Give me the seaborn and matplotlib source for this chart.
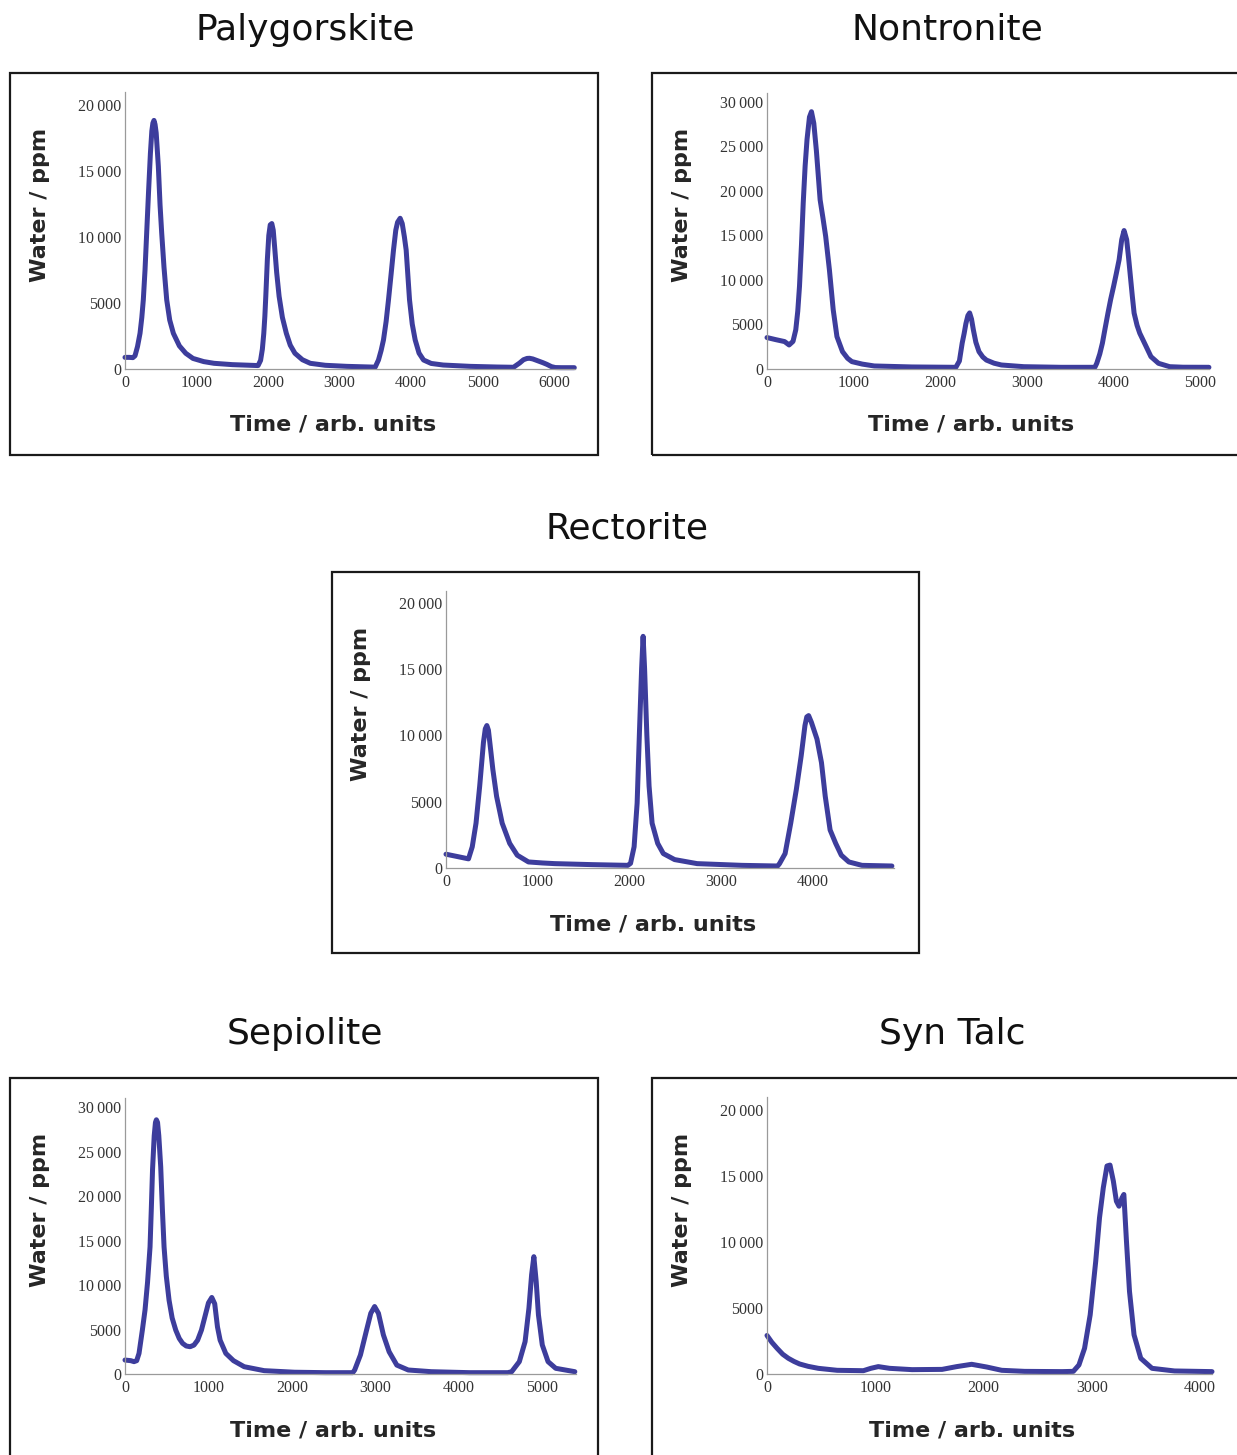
import matplotlib
matplotlib.use("Agg")
import matplotlib.pyplot as plt
from matplotlib.patches import Rectangle
from matplotlib.ticker import MultipleLocator, FuncFormatter
import pandas as pd
import seaborn as sns

# ---- evolved-water traces (time in arb. units, water in ppm) ----
paly_time = [0, 60, 110, 140, 175, 210, 235, 256, 280, 303, 330, 355, 375, 390, 405,
             420, 436, 466, 490, 513, 545, 583, 625, 676, 760, 849, 950, 1100, 1245,
             1500, 1860, 1895, 1920, 1940, 1955, 1968, 1990, 2010, 2030, 2052, 2072,
             2095, 2120, 2154, 2200, 2255, 2310, 2375, 2480, 2590, 2800, 3100, 3497,
             3543, 3580, 3613, 3650, 3683, 3720, 3753, 3785, 3810, 3846, 3875, 3905,
             3930, 3977, 4015, 4056, 4110, 4173, 4280, 4448, 4825, 5200, 5431, 5475,
             5515, 5570, 5620, 5655, 5700, 5770, 5840, 5897, 5960, 6014, 6100, 6280]
paly_ppm = [880, 880, 860, 1000, 1700, 2700, 3900, 5230, 7500, 10280, 13500, 16300,
            18000, 18600, 18800, 18500, 17850, 15330, 12400, 10280, 7700, 5230, 3700,
            2700, 1750, 1190, 800, 560, 430, 330, 260, 650, 1500, 2700, 4000, 5500,
            8300, 10100, 10900, 11000, 10500, 9000, 7300, 5500, 3900, 2700, 1800, 1190,
            700, 430, 280, 200, 140, 680, 1400, 2200, 3600, 5230, 7200, 9000, 10500,
            11100, 11400, 11000, 10000, 9000, 5230, 3400, 2200, 1200, 680, 420, 300,
            200, 150, 130, 300, 450, 700, 800, 810, 760, 620, 480, 350, 180, 110, 100,
            100]

nont_time = [0, 100, 203, 255, 300, 332, 355, 375, 398, 418, 440, 462, 490, 513, 540,
             570, 613, 645, 677, 720, 764, 807, 871, 930, 979, 1100, 1238, 1670, 2179,
             2220, 2252, 2275, 2295, 2318, 2338, 2360, 2381, 2410, 2446, 2490, 2532,
             2620, 2705, 2964, 3395, 3783, 3805, 3840, 3870, 3900, 3934, 3965, 3999,
             4030, 4063, 4093, 4120, 4150, 4172, 4193, 4215, 4236, 4270, 4301, 4366,
             4430, 4517, 4646, 4800, 5099]
nont_ppm = [3530, 3300, 3080, 2700, 3100, 4400, 6500, 9300, 14000, 18660, 22800, 25800,
            28300, 28900, 27600, 24500, 19000, 17000, 14900, 11150, 6650, 3640, 1950,
            1200, 830, 550, 340, 230, 190, 900, 2900, 4000, 5100, 6000, 6300, 5600, 4400,
            3000, 1950, 1350, 1000, 650, 450, 260, 190, 190, 640, 1700, 2900, 4500, 6270,
            7800, 9275, 10700, 12280, 14530, 15550, 14530, 12500, 10400, 8200, 6270,
            4900, 4020, 2700, 1390, 640, 260, 200, 190]

rect_time = [0, 120, 245, 286, 327, 367, 408, 428, 445, 462, 490, 510, 551, 612, 694,
             776, 898, 1050, 1184, 1592, 1980, 2010, 2049, 2082, 2106, 2131, 2147, 2163,
             2188, 2212, 2245, 2306, 2367, 2490, 2735, 3224, 3612, 3633, 3694, 3755,
             3816, 3869, 3910, 3930, 3950, 3980, 4041, 4090, 4131, 4184, 4245, 4306,
             4388, 4531, 4857]
rect_ppm = [1040, 870, 690, 1600, 3380, 6180, 9480, 10500, 10750, 10400, 8700, 7450,
            5410, 3380, 1855, 966, 457, 380, 330, 254, 200, 350, 1600, 4900, 10000,
            15070, 17480, 15070, 10000, 6180, 3380, 1855, 1090, 635, 330, 200, 150, 330,
            1090, 3380, 5920, 8460, 10750, 11400, 11500, 11000, 9730, 7950, 5410, 2870,
            1855, 966, 457, 200, 150]

sepi_time = [0, 69, 108, 140, 168, 208, 240, 270, 300, 315, 330, 350, 365, 376, 390,
             405, 428, 448, 468, 495, 528, 565, 608, 650, 690, 734, 780, 826, 870, 916,
             963, 1000, 1040, 1075, 1108, 1140, 1208, 1300, 1428, 1668, 2028, 2400,
             2729, 2752, 2821, 2890, 2945, 2991, 3037, 3096, 3165, 3257, 3394, 3670,
             4128, 4587, 4633, 4725, 4794, 4840, 4872, 4899, 4927, 4954, 5000, 5069,
             5161, 5390]
sepi_ppm = [1570, 1500, 1390, 1500, 2320, 4940, 7200, 10300, 14300, 18500, 23000, 26800,
            28300, 28600, 28300, 26800, 23300, 18500, 14300, 11000, 8300, 6300, 4940,
            4000, 3450, 3150, 3070, 3250, 3800, 4940, 6650, 8000, 8610, 7900, 5300, 3800,
            2320, 1500, 820, 375, 200, 150, 150, 450, 2140, 4770, 6830, 7590, 6830, 4400,
            2500, 1000, 450, 260, 150, 150, 260, 1390, 3640, 7400, 11150, 13200, 10400,
            6650, 3270, 1390, 640, 260]

talc_time = [0, 45, 93, 145, 197, 250, 301, 380, 474, 648, 890, 959, 1028, 1132, 1340,
             1617, 1752, 1890, 2029, 2168, 2379, 2725, 2829, 2881, 2933, 2985, 3036,
             3071, 3106, 3140, 3168, 3199, 3227, 3251, 3279, 3296, 3320, 3348, 3390,
             3452, 3556, 3764, 4110]
talc_ppm = [2920, 2400, 1950, 1500, 1190, 950, 760, 580, 430, 280, 250, 430, 560, 430,
            330, 350, 560, 735, 530, 280, 200, 180, 200, 685, 1950, 4490, 8540, 11840,
            14120, 15770, 15840, 14620, 13100, 12720, 13360, 13610, 10060, 6260, 2970,
            1190, 430, 230, 180]

minerals = ["Palygorskite", "Nontronite", "Rectorite", "Sepiolite", "Syn Talc"]
series = {
    "Palygorskite": (paly_time, paly_ppm),
    "Nontronite": (nont_time, nont_ppm),
    "Rectorite": (rect_time, rect_ppm),
    "Sepiolite": (sepi_time, sepi_ppm),
    "Syn Talc": (talc_time, talc_ppm),
}
x_limits = {"Palygorskite": 6290, "Nontronite": 5100, "Rectorite": 4880,
            "Sepiolite": 5404, "Syn Talc": 4110}
y_limits = {"Palygorskite": 20950, "Nontronite": 31000, "Rectorite": 20900,
            "Sepiolite": 31050, "Syn Talc": 21000}

x_label = "Time / arb. units"
y_label = "Water / ppm"

# ---- layout in pixels: frame box, axes box, title position ----
W, H = 1237, 1455
layout = {
    #               frame (l, t, r, b)          axes (l, r, top, bottom)   title (x, y)
    "Palygorskite": ((10, 73, 598, 455),       (125, 575, 92, 369),       (305, 30)),
    "Nontronite":   ((652, 73, 1245, 455),     (767, 1209, 93, 369),      (947, 30)),
    "Rectorite":    ((332, 572, 919, 953),     (446, 894, 591, 868),      (627, 528)),
    "Sepiolite":    ((10, 1078, 598, 1470),    (125, 576, 1098, 1374),    (305, 1034)),
    "Syn Talc":     ((652, 1078, 1245, 1470),  (767, 1212, 1097, 1374),   (952, 1034)),
}

LINE_COLOR = "#3d3d9c"

sns.set_style("white")
plt.rcParams["font.family"] = ["DejaVu Sans"]

fig = plt.figure(figsize=(W / 100, H / 100), dpi=100)
fig.patch.set_facecolor("white")


def fx(px):
    return px / W


def fy(py):
    return 1 - py / H


def tick_fmt(v, _pos):
    v = int(round(v))
    if abs(v) >= 10000:
        s = f"{v:d}"
        return s[:-3] + "\u2009" + s[-3:]
    return f"{v:d}"


for name in minerals:
    (fl, ft, fr, fb), (al, ar, at, ab), (tx, ty) = layout[name]

    # outer frame and panel title
    fig.patches.append(Rectangle((fx(fl), fy(fb)), fx(fr) - fx(fl), fy(ft) - fy(fb),
                                 transform=fig.transFigure, fill=False,
                                 edgecolor="#1a1a1a", linewidth=1.6, zorder=0))
    fig.text(fx(tx), fy(ty), name, ha="center", va="center",
             fontsize=26, family="DejaVu Sans", color="#111111")

    ax = fig.add_axes([fx(al), fy(ab), fx(ar) - fx(al), fy(at) - fy(ab)])
    t, w = series[name]
    df = pd.DataFrame({"time": t, "ppm": w})
    sns.lineplot(data=df, x="time", y="ppm", ax=ax, color=LINE_COLOR,
                 linewidth=3.6, estimator=None, sort=False)
    for ln in ax.lines:
        ln.set_solid_joinstyle("round")
        ln.set_solid_capstyle("round")
        ln.set_clip_on(False)

    ax.set_xlim(0, x_limits[name])
    ax.set_ylim(0, y_limits[name])
    ax.set_xlabel("")
    ax.set_ylabel("")
    ax.set_facecolor("none")

    for side in ("top", "right"):
        ax.spines[side].set_visible(False)
    for side in ("left", "bottom"):
        ax.spines[side].set_color("#9a9a9a")
        ax.spines[side].set_linewidth(0.9)

    ax.xaxis.set_major_locator(MultipleLocator(1000))
    ax.xaxis.set_minor_locator(MultipleLocator(200))
    ax.yaxis.set_major_locator(MultipleLocator(5000))
    ax.yaxis.set_minor_locator(MultipleLocator(1000))
    ax.xaxis.set_major_formatter(FuncFormatter(tick_fmt))
    ax.yaxis.set_major_formatter(FuncFormatter(tick_fmt))

    ax.tick_params(which="major", direction="in", length=3.2, width=0.7,
                   color="#8a8a8a", labelsize=11.5, labelcolor="#333333")
    ax.tick_params(which="minor", direction="in", length=1.8, width=0.6,
                   color="#a0a0a0")
    ax.tick_params(axis="x", which="major", pad=4)
    ax.tick_params(axis="y", which="major", pad=2.5)
    for lab in ax.get_xticklabels() + ax.get_yticklabels():
        lab.set_family(["Liberation Serif", "DejaVu Serif"])

    # axis titles
    fig.text(fx((al + ar) / 2 - 17), fy(ab + 56), x_label,
             ha="center", va="center", fontsize=16, fontweight="bold",
             family="DejaVu Sans")
    fig.text(fx(al - 85), fy((at + ab) / 2 - 26), y_label, rotation=90,
             ha="center", va="center", fontsize=16, fontweight="bold",
             family="DejaVu Sans")

fig.savefig("out.png", dpi=100, facecolor="white")
